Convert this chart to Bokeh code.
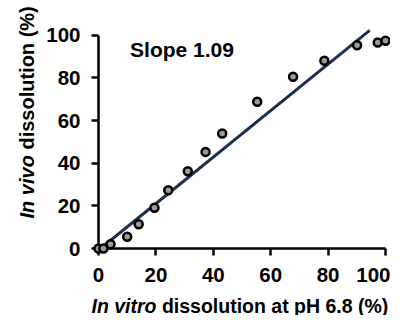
from bokeh.plotting import figure
from bokeh.models import Range1d, FixedTicker, Label
from bokeh.embed import file_html
from bokeh.resources import INLINE
import math

# ---- data ----
in_vitro = [0, 1.7, 4.2, 10.0, 14.0, 19.5, 24.3, 31.1, 37.3, 43.1, 55.3, 67.8, 78.7, 90.1, 97.3, 100.0]
in_vivo = [0, 0, 2.0, 5.5, 11.4, 19.1, 27.3, 36.2, 45.3, 53.9, 68.8, 80.5, 88.0, 95.3, 96.6, 97.4]
fit_slope = 1.09
fit_intercept = -0.76
fit_x = [0.7, 94.5]
x_ticks = [0, 20, 40, 60, 80, 100]
y_ticks = [0, 20, 40, 60, 80, 100]
slope_text = "Slope 1.09"

fit_y = [fit_slope * v + fit_intercept for v in fit_x]

W, H = 390, 315
# pixel position of data origin and scale (frame covers whole canvas)
X0, KX = 98.0, 2.87
Y0, KY = 248.0, 2.133

p = figure(width=W, height=H, output_backend="svg", toolbar_location=None,
           x_range=Range1d(-X0 / KX, (W - X0) / KX),
           y_range=Range1d((Y0 - H) / KY, Y0 / KY),
           min_border=0, min_border_left=0, min_border_right=0,
           min_border_top=0, min_border_bottom=0)
p.outline_line_color = None
p.grid.visible = False
p.background_fill_color = "white"
p.border_fill_color = "white"

for ax, ticks, so in ((p.xaxis, x_ticks, 12), (p.yaxis, y_ticks, 11)):
    ax.fixed_location = 0
    ax.bounds = (0, 100)
    ax.ticker = FixedTicker(ticks=ticks)
    ax.minor_tick_line_color = None
    ax.major_tick_in = 0
    ax.major_tick_out = 7
    ax.axis_line_width = 2.5
    ax.major_tick_line_width = 2.5
    ax.axis_line_color = "black"
    ax.major_tick_line_color = "black"
    ax.major_label_text_font = "Liberation Sans"
    ax.major_label_text_font_style = "bold"
    ax.major_label_text_font_size = "20.5px"
    ax.major_label_text_color = "black"
    ax.major_label_standoff = so

p.line(fit_x, fit_y, line_color="#1c3150", line_width=3)
p.scatter(in_vitro, in_vivo, size=8, fill_color="#9a9a9a", line_color="black",
          line_width=2.5, level="overlay")

p.add_layout(Label(x=11.0, y=93.3, text=slope_text, text_font="Liberation Sans",
                   text_font_style="bold", text_font_size="21px", text_color="black",
                   text_baseline="alphabetic", text_align="left", level="overlay"))

def sy(fy):
    return H - fy

# y axis title (rotated), two styled parts
fs_y = 20
yb = 218
yx = 26
p.add_layout(Label(x=yx, y=sy(yb), x_units="screen", y_units="screen",
                   text="In vivo", angle=math.pi / 2, text_font="Liberation Sans",
                   text_font_style="bold italic", text_font_size=f"{fs_y}px",
                   text_align="left", text_baseline="alphabetic", text_color="black",
                   level="overlay"))
p.add_layout(Label(x=yx, y=sy(yb) + 3.446 * fs_y, x_units="screen", y_units="screen",
                   text="dissolution (%)", angle=math.pi / 2, text_font="Liberation Sans",
                   text_font_style="bold", text_font_size=f"{fs_y}px",
                   text_align="left", text_baseline="alphabetic", text_color="black",
                   level="overlay"))

# x axis title, two styled parts
fs_x = 19.5
xl = 91
xb = 305
p.add_layout(Label(x=xl, y=sy(xb), x_units="screen", y_units="screen",
                   text="In vitro", text_font="Liberation Sans",
                   text_font_style="bold italic", text_font_size=f"{fs_x}px",
                   text_align="left", text_baseline="alphabetic", text_color="black",
                   level="overlay"))
p.add_layout(Label(x=xl + 3.612 * fs_x, y=sy(xb), x_units="screen", y_units="screen",
                   text="dissolution at pH 6.8 (%)", text_font="Liberation Sans",
                   text_font_style="bold", text_font_size=f"{fs_x}px",
                   text_align="left", text_baseline="alphabetic", text_color="black",
                   level="overlay"))

open("out.html", "w").write(file_html(p, INLINE))
